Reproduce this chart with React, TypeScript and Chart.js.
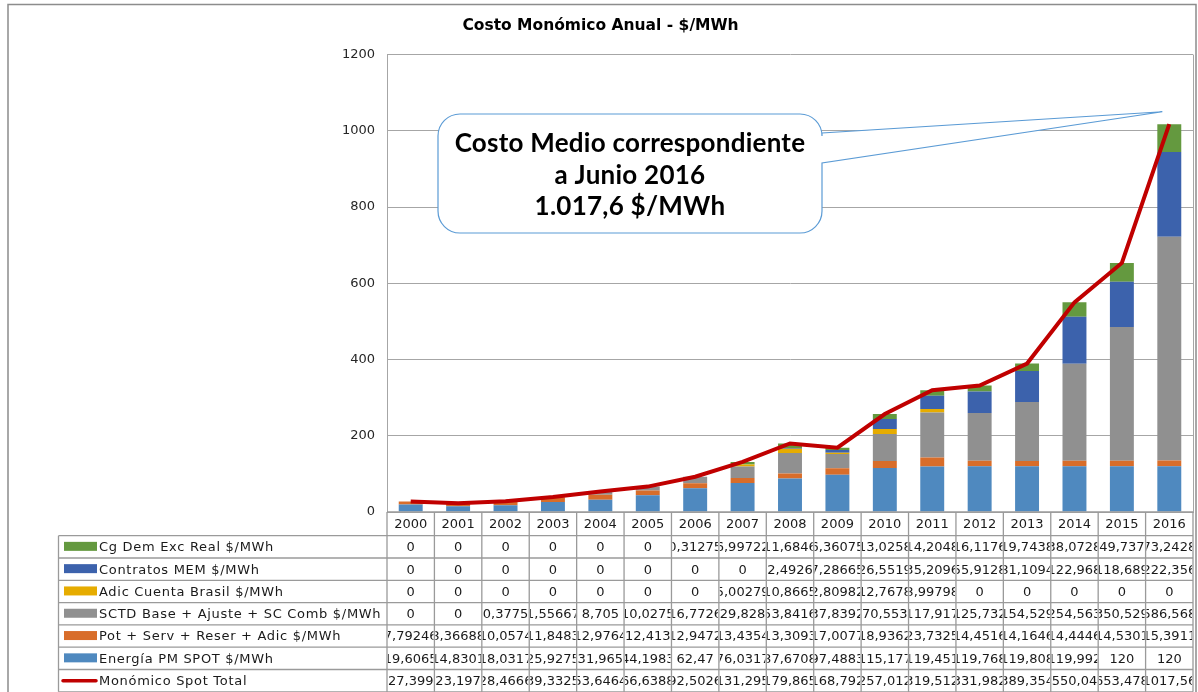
import React, { useEffect, useRef } from "react";
import { Chart, registerables } from "chart.js";

Chart.register(...registerables);

const YEARS = ["2000","2001","2002","2003","2004","2005","2006","2007","2008","2009","2010","2011","2012","2013","2014","2015","2016"];

const ENERGIA = [19.6065, 14.8301, 18.0317, 25.9275, 31.965, 44.1983, 62.47, 76.0317, 87.6708, 97.4883, 115.177, 119.451, 119.768, 119.808, 119.992, 120, 120];
const POT = [7.79246, 8.36688, 10.0574, 11.8483, 12.9764, 12.413, 12.9472, 13.4354, 13.3093, 17.0077, 18.9362, 23.7325, 14.4516, 14.1646, 14.4446, 14.5301, 15.3911];
const SCTD = [0, 0, 0.3775, 1.55667, 8.705, 10.0275, 16.7726, 29.828, 53.8416, 37.8392, 70.553, 117.917, 125.732, 154.529, 254.563, 350.529, 586.568];
const ADIC = [0, 0, 0, 0, 0, 0, 0, 5.00279, 10.8665, 2.80982, 12.7678, 8.99798, 0, 0, 0, 0, 0];
const CONTRATOS = [0, 0, 0, 0, 0, 0, 0, 0, 2.4926, 7.28665, 26.5519, 35.2096, 55.9128, 81.1094, 122.968, 118.689, 222.356];
const CG = [0, 0, 0, 0, 0, 0, 0.31275, 6.99722, 11.6846, 6.36075, 13.0258, 14.2048, 16.1176, 19.7438, 38.0728, 49.737, 73.2428];
const TOTAL = [27.399, 23.197, 28.4666, 39.3325, 53.6464, 66.6388, 92.5026, 131.295, 179.865, 168.792, 257.012, 319.512, 331.982, 389.354, 550.04, 653.478, 1017.56];

const Y_MIN = 0;
const Y_MAX = 1200;
const Y_STEP = 200;

const TITLE = "Costo Monómico Anual - $/MWh";
const CALLOUT_LINES = ["Costo Medio correspondiente", "a Junio 2016", "1.017,6 $/MWh"];

const C_ENERGIA = "#4F89BF";
const C_POT = "#D86D2A";
const C_SCTD = "#909090";
const C_ADIC = "#E6AC00";
const C_CONTRATOS = "#3C62AC";
const C_CG = "#64993F";
const C_TOTAL = "#C00000";

const FONT = "'DejaVu Sans', 'Verdana', sans-serif";
const GRID = "#a6a6a6";

type Row = { label: string; color: string; values: number[]; line?: boolean };

const TABLE_ROWS: Row[] = [
  { label: "Cg Dem Exc Real $/MWh", color: C_CG, values: CG },
  { label: "Contratos MEM $/MWh", color: C_CONTRATOS, values: CONTRATOS },
  { label: "Adic Cuenta Brasil $/MWh", color: C_ADIC, values: ADIC },
  { label: "SCTD Base + Ajuste + SC Comb $/MWh", color: C_SCTD, values: SCTD },
  { label: "Pot + Serv + Reser + Adic $/MWh", color: C_POT, values: POT },
  { label: "Energía PM SPOT $/MWh", color: C_ENERGIA, values: ENERGIA },
  { label: "Monómico Spot Total", color: C_TOTAL, values: TOTAL, line: true },
];

const fmt = (v: number) => String(v).replace(".", ",");

const tablePlugin = {
  id: "dataTable",
  afterDraw(chart: any) {
    const ctx: any = chart.ctx;
    const area = chart.chartArea;
    const xs = chart.scales.x;
    const ys = chart.scales.y;
    const n = YEARS.length;
    const colW = (area.right - area.left) / n;
    const headerTop = area.bottom;
    const rowTop = 535.7;
    const rowH = 22.3;
    const labelLeft = 58.5;
    const bottom = rowTop + rowH * TABLE_ROWS.length;

    ctx.save();
    // plot area right border
    ctx.strokeStyle = GRID;
    ctx.lineWidth = 1;
    ctx.beginPath();
    ctx.moveTo(Math.round(area.right) + 0.5, area.top);
    ctx.lineTo(Math.round(area.right) + 0.5, area.bottom);
    ctx.stroke();

    // outer frame
    ctx.strokeStyle = "#8c8c8c";
    ctx.lineWidth = 1.5;
    ctx.beginPath();
    ctx.moveTo(8, 700);
    ctx.lineTo(8, 4.5);
    ctx.lineTo(1196, 4.5);
    ctx.lineTo(1196, 700);
    ctx.stroke();

    // table grid
    ctx.strokeStyle = "#9a9a9a";
    ctx.lineWidth = 1.3;
    ctx.beginPath();
    for (let k = 0; k <= TABLE_ROWS.length; k++) {
      const y = rowTop + k * rowH;
      ctx.moveTo(labelLeft, y);
      ctx.lineTo(area.right, y);
    }
    ctx.moveTo(area.left, headerTop);
    ctx.lineTo(area.right, headerTop);
    ctx.moveTo(labelLeft, rowTop);
    ctx.lineTo(labelLeft, bottom);
    for (let i = 0; i <= n; i++) {
      const x = area.left + i * colW;
      ctx.moveTo(x, headerTop);
      ctx.lineTo(x, bottom);
    }
    ctx.stroke();

    ctx.font = `13px ${FONT}`;
    ctx.fillStyle = "#1a1a1a";
    ctx.textBaseline = "middle";
    ctx.textAlign = "center";
    // header
    for (let i = 0; i < n; i++) {
      const cx = xs.getPixelForValue(i);
      ctx.fillText(YEARS[i], cx, (headerTop + rowTop) / 2 + 1);
    }
    // rows
    TABLE_ROWS.forEach((row, r) => {
      const top = rowTop + r * rowH;
      const cy = top + rowH / 2 + 1;
      if (row.line) {
        ctx.strokeStyle = row.color;
        ctx.lineWidth = 3.5;
        ctx.lineCap = "round";
        ctx.beginPath();
        ctx.moveTo(63, cy - 1);
        ctx.lineTo(96, cy - 1);
        ctx.stroke();
      } else {
        ctx.fillStyle = row.color;
        ctx.fillRect(64, cy - 6, 33, 9);
      }
      ctx.fillStyle = "#1a1a1a";
      ctx.textAlign = "left";
      ctx.letterSpacing = "0.7px";
      ctx.fillText(row.label, 99, cy);
      ctx.letterSpacing = "0px";
      ctx.textAlign = "center";
      row.values.forEach((v, i) => {
        const cx = xs.getPixelForValue(i);
        const l = area.left + i * colW;
        ctx.save();
        ctx.beginPath();
        ctx.rect(l + 1, top + 1, colW - 2, rowH - 2);
        ctx.clip();
        ctx.fillText(fmt(v), cx, cy);
        ctx.restore();
      });
    });

    // callout
    const tipX = xs.getPixelForValue(n - 1) - 7;
    const tipY = ys.getPixelForValue(1050);
    const bl = 438, bt = 114, br = 822, bb = 233, rad = 22;
    ctx.beginPath();
    ctx.moveTo(bl + rad, bt);
    ctx.lineTo(br - rad, bt);
    ctx.arcTo(br, bt, br, bt + rad, rad);
    ctx.lineTo(br, 133);
    ctx.lineTo(tipX, tipY);
    ctx.lineTo(br, 163);
    ctx.lineTo(br, bb - rad);
    ctx.arcTo(br, bb, br - rad, bb, rad);
    ctx.lineTo(bl + rad, bb);
    ctx.arcTo(bl, bb, bl, bb - rad, rad);
    ctx.lineTo(bl, bt + rad);
    ctx.arcTo(bl, bt, bl + rad, bt, rad);
    ctx.closePath();
    ctx.fillStyle = "#ffffff";
    ctx.fill();
    ctx.strokeStyle = "#5B9BD5";
    ctx.lineWidth = 1.2;
    ctx.stroke();

    ctx.fillStyle = "#000000";
    ctx.font = `bold 26px Lato, 'Open Sans', sans-serif`;
    ctx.letterSpacing = "0.25px";
    ctx.textAlign = "center";
    ctx.textBaseline = "middle";
    const cx = (bl + br) / 2;
    CALLOUT_LINES.forEach((t, i) => {
      ctx.fillText(t, cx, 144 + i * 31.5);
    });
    ctx.letterSpacing = "0px";
    ctx.restore();
  },
};

export default function App() {
  const ref = useRef<HTMLCanvasElement | null>(null);
  useEffect(() => {
    if (!ref.current) return;
    const barDs = (label: string, data: number[], color: string) => ({
      type: "bar" as const,
      label,
      data,
      backgroundColor: color,
      borderWidth: 0,
      stack: "s",
      order: 2,
      barPercentage: 0.505,
      categoryPercentage: 1,
    });
    const chart = new Chart(ref.current, {
      type: "bar",
      data: {
        labels: YEARS,
        datasets: [
          barDs("Energía PM SPOT $/MWh", ENERGIA, C_ENERGIA),
          barDs("Pot + Serv + Reser + Adic $/MWh", POT, C_POT),
          barDs("SCTD Base + Ajuste + SC Comb $/MWh", SCTD, C_SCTD),
          barDs("Adic Cuenta Brasil $/MWh", ADIC, C_ADIC),
          barDs("Contratos MEM $/MWh", CONTRATOS, C_CONTRATOS),
          barDs("Cg Dem Exc Real $/MWh", CG, C_CG),
          {
            type: "line" as const,
            label: "Monómico Spot Total",
            data: TOTAL,
            borderColor: C_TOTAL,
            backgroundColor: C_TOTAL,
            borderWidth: 4,
            pointRadius: 0,
            tension: 0,
            order: 0,
            stack: "line",
          } as any,
        ],
      },
      options: {
        responsive: false,
        animation: false,
        layout: { padding: { left: 8, right: 5, top: 0, bottom: 0 } },
        plugins: {
          legend: { display: false },
          tooltip: { enabled: false },
          title: {
            display: true,
            text: TITLE,
            color: "#000",
            font: { family: FONT, size: 15.5, weight: "bold" },
            padding: { top: 17, bottom: 19 },
          },
        },
        scales: {
          x: {
            stacked: true,
            grid: { display: false },
            border: { display: true, color: GRID },
            ticks: { display: false },
            afterFit: (s: any) => { s.height = 180; },
          } as any,
          y: {
            stacked: true,
            min: Y_MIN,
            max: Y_MAX,
            ticks: {
              stepSize: Y_STEP,
              color: "#262626",
              font: { family: FONT, size: 13 },
              padding: 12,
              callback: (v: any) => String(v),
            },
            grid: { color: GRID, drawTicks: false },
            border: { display: true, color: GRID },
            afterFit: (s: any) => { s.width = 379; },
          } as any,
        },
      },
      plugins: [tablePlugin],
    });
    return () => chart.destroy();
  }, []);
  return (
    <div style={{ position: "fixed", left: 0, top: 0, width: 1198, height: 692, background: "#fff" }}>
      <canvas ref={ref} width={1198} height={692} style={{ display: "block" }} />
    </div>
  );
}
